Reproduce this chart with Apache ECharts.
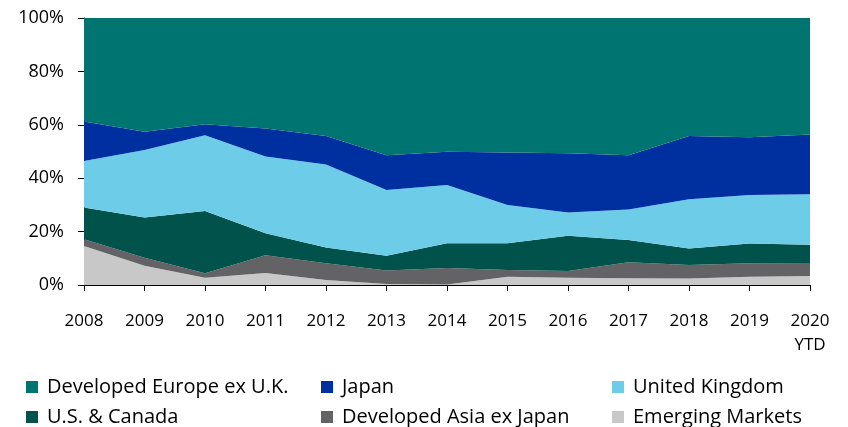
<!DOCTYPE html>
<html lang="en">
<head>
    <meta charset="UTF-8">
    <title>Regional weights</title>
    <script src="https://cdn.jsdelivr.net/npm/echarts@6/dist/echarts.min.js"></script>
    <style>
        body { margin: 0; background: #fff; }
        #main { width: 848px; height: 427px; }
    </style>
</head>
<body>
    <div id="main"></div>
    <script type="text/javascript">
        // years on the x axis
        var years = ['2008', '2009', '2010', '2011', '2012', '2013', '2014',
                     '2015', '2016', '2017', '2018', '2019', '2020\nYTD'];
        var yTicks = ['0%', '20%', '40%', '60%', '80%', '100%'];

        // shares in % (bottom layer first)
        var emerging = [14.6, 7.2, 2.7, 4.5, 1.9, 0.4, 0.2, 3.1, 2.7, 2.5, 2.4, 3.1, 3.4];
        var asiaExJapan = [2.5, 3.0, 1.7, 6.6, 6.2, 5.0, 6.2, 2.5, 2.5, 6.0, 5.1, 5.0, 4.8];
        var usCanada = [11.9, 15.1, 23.3, 8.3, 5.9, 5.6, 9.2, 10.0, 13.2, 8.4, 6.2, 7.4, 6.9];
        var uk = [17.4, 25.3, 28.4, 28.7, 31.1, 24.6, 21.9, 14.4, 8.8, 11.4, 18.4, 18.2, 18.9];
        var japan = [14.8, 6.8, 4.1, 10.5, 10.7, 13.0, 12.4, 19.6, 22.1, 20.3, 23.7, 21.6, 22.4];
        var europeExUk = [38.8, 42.6, 39.8, 41.4, 44.2, 51.4, 50.1, 50.4, 50.7, 51.4, 44.2, 44.7, 43.6];

        var font = '"Open Sans", sans-serif';

        function area(name, data, color) {
            return {
                name: name,
                type: 'line',
                stack: 'total',
                data: data,
                symbol: 'none',
                lineStyle: { width: 0 },
                areaStyle: { color: color, opacity: 1 },
                itemStyle: { color: color },
                emphasis: { disabled: true }
            };
        }

        var myChart = echarts.init(document.getElementById('main'));

        // three little vertical legends make the 3 x 2 grid
        var legendBase = {
            orient: 'vertical',
            top: 377,
            padding: 0,
            itemWidth: 12,
            itemHeight: 12,
            itemGap: 10,
            icon: 'rect',
            textStyle: { fontFamily: font, fontSize: 20, lineHeight: 18, color: '#000', padding: [0, 0, 0, 4] }
        };

        myChart.setOption({
            animation: false,
            grid: { left: 84, right: 38, top: 18, bottom: 142 },
            legend: [
                Object.assign({ left: 26, data: ['Developed Europe ex U.K.', 'U.S. & Canada'] }, legendBase),
                Object.assign({ left: 321, data: ['Japan', 'Developed Asia ex Japan'] }, legendBase),
                Object.assign({ left: 612, data: ['United Kingdom', 'Emerging Markets'] }, legendBase)
            ],
            xAxis: {
                type: 'category',
                boundaryGap: false,
                data: years,
                axisLine: { lineStyle: { color: '#000', width: 1 } },
                axisTick: { show: true, alignWithLabel: true, length: 6, lineStyle: { color: '#000' } },
                axisLabel: {
                    fontFamily: font, fontSize: 17, color: '#000', margin: 24,
                    lineHeight: 24, interval: 0, align: 'center'
                },
                splitLine: { show: false }
            },
            yAxis: {
                type: 'value',
                min: 0,
                max: 100,
                interval: 20,
                axisLine: { show: true, lineStyle: { color: '#000', width: 1 } },
                axisTick: { show: true, length: 6, lineStyle: { color: '#000' } },
                axisLabel: {
                    fontFamily: font, fontSize: 18, color: '#000', margin: 20,
                    formatter: function (v) { return yTicks[v / 20]; }
                },
                splitLine: { show: false }
            },
            series: [
                area('Emerging Markets', emerging, '#C8C8C8'),
                area('Developed Asia ex Japan', asiaExJapan, '#636366'),
                area('U.S. & Canada', usCanada, '#00524B'),
                area('United Kingdom', uk, '#6DCDE9'),
                area('Japan', japan, '#0030A0'),
                area('Developed Europe ex U.K.', europeExUk, '#007470')
            ]
        });
    </script>
</body>
</html>
